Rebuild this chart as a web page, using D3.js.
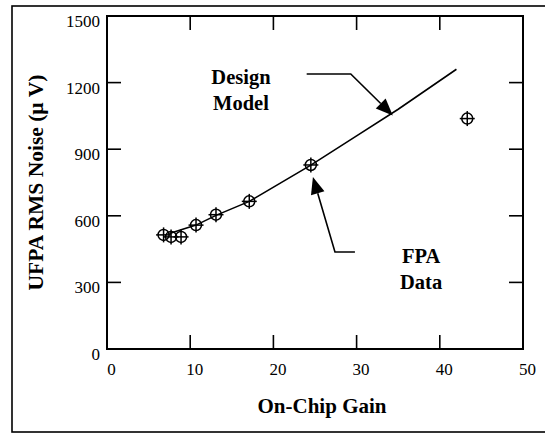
<!DOCTYPE html>
<html>
<head>
<meta charset="utf-8">
<script src="https://cdn.jsdelivr.net/npm/d3@7"></script>
<style>
  body { margin: 0; background: #fff; }
  svg { display: block; }
  .lab text { font-family: 'Liberation Serif', 'Times New Roman', serif; font-size: 17px; fill: #000; }
</style>
</head>
<body>
<div id="chart"></div>
<script>
// tick values
const gainTicks = [0, 10, 20, 30, 40, 50];
const noiseTicks = [0, 300, 600, 900, 1200, 1500];

// FPA data (markers)
const fpaGain = [6.8, 7.7, 8.9, 10.7, 13.1, 17.1, 24.5, 43.3];
const fpaNoise = [514, 505, 505, 558, 605, 665, 829, 1038];

// design model (line)
const modelGain = [7.5, 10.7, 13.1, 17.1, 24.5, 30, 35, 42];
const modelNoise = [520, 558, 602, 665, 828, 960, 1080, 1260];

// annotation arrows in data units
const designArrow = [[24.0, 1239], [29.3, 1239], [34.35, 1052]];
const fpaArrow = [[29.8, 437], [27.4, 437], [24.75, 775]];

const width = 545, height = 434;
const margin = {top: 16, right: 22, bottom: 85, left: 107};

const x = d3.scaleLinear()
    .domain([0, 50])
    .range([margin.left, width - margin.right]);

const y = d3.scaleLinear()
    .domain([0, 1500])
    .range([height - margin.bottom, margin.top]);

const svg = d3.select("#chart").append("svg")
    .attr("width", width)
    .attr("height", height)
    .attr("font-family", "'Liberation Serif', 'Times New Roman', serif");

// outer frame (right side runs off the picture)
svg.append("rect")
    .attr("x", 12).attr("y", 6)
    .attr("width", 545).attr("height", 426)
    .attr("fill", "none")
    .attr("stroke", "#000")
    .attr("stroke-width", 1.6);

// plot box
svg.append("rect")
    .attr("x", x(0)).attr("y", y(1500))
    .attr("width", x(50) - x(0)).attr("height", y(0) - y(1500))
    .attr("fill", "none")
    .attr("stroke", "#000")
    .attr("stroke-width", 2);

// inward ticks
const tickLen = 14;
const ticks = svg.append("g").attr("stroke", "#000").attr("stroke-width", 1.6);
const inner = v => v !== 0 && v !== 1500;
const innerX = v => v !== 0 && v !== 50;

ticks.selectAll(".yl").data(noiseTicks.filter(inner)).join("line")
    .attr("x1", x(0)).attr("x2", x(0) + tickLen)
    .attr("y1", d => y(d)).attr("y2", d => y(d));
ticks.selectAll(".yr").data(noiseTicks.filter(inner)).join("line")
    .attr("x1", x(50)).attr("x2", x(50) - tickLen)
    .attr("y1", d => y(d)).attr("y2", d => y(d));
ticks.selectAll(".xb").data(gainTicks.filter(innerX)).join("line")
    .attr("x1", d => x(d)).attr("x2", d => x(d))
    .attr("y1", y(0)).attr("y2", y(0) - tickLen);
ticks.selectAll(".xt").data(gainTicks.filter(innerX)).join("line")
    .attr("x1", d => x(d)).attr("x2", d => x(d))
    .attr("y1", y(1500)).attr("y2", y(1500) + tickLen);

// tick labels through d3 axes (no tick lines)
const yAxis = g => g.attr("transform", `translate(${x(0)},0)`)
    .call(d3.axisLeft(y).tickValues(noiseTicks).tickFormat(d3.format("d")).tickSize(0).tickPadding(7))
    .call(g => g.select(".domain").remove())
    .call(g => g.selectAll("text").attr("y", 5));

const xAxis = g => g.attr("transform", `translate(0,${y(0)})`)
    .call(d3.axisBottom(x).tickValues(gainTicks).tickFormat(d3.format("d")).tickSize(0).tickPadding(14))
    .call(g => g.select(".domain").remove())
    .call(g => g.selectAll("text").attr("x", 4));

svg.append("g").attr("class", "lab").call(yAxis);
svg.append("g").attr("class", "lab").call(xAxis);

// axis titles
svg.append("text")
    .attr("x", (x(0) + x(50)) / 2 + 7)
    .attr("y", 413)
    .attr("text-anchor", "middle")
    .attr("font-size", 21)
    .attr("font-weight", "bold")
    .text("On-Chip Gain");

svg.append("text")
    .attr("transform", `translate(43,${(y(0) + y(1500)) / 2}) rotate(-90)`)
    .attr("text-anchor", "middle")
    .attr("font-size", 21.5)
    .attr("font-weight", "bold")
    .text("UFPA RMS Noise (\u00b5 V)");

// design model line
const modelPts = modelGain.map((g, i) => [g, modelNoise[i]]);
svg.append("path")
    .datum(modelPts)
    .attr("fill", "none")
    .attr("stroke", "#000")
    .attr("stroke-width", 1.6)
    .attr("d", d3.line().x(d => x(d[0])).y(d => y(d[1])));

// FPA markers: circle with crosshair
const fpaPts = fpaGain.map((g, i) => [g, fpaNoise[i]]);
const mk = svg.append("g")
    .attr("fill", "none")
    .attr("stroke", "#000")
    .attr("stroke-width", 1.5)
    .selectAll("g")
    .data(fpaPts)
    .join("g")
    .attr("transform", d => `translate(${x(d[0])},${y(d[1])})`);
mk.append("circle").attr("r", 5.5);
mk.append("line").attr("x1", -7.5).attr("x2", 7.5);
mk.append("line").attr("y1", -7.5).attr("y2", 7.5);

// annotation arrows
function arrow(pts) {
    const p = pts.map(d => [x(d[0]), y(d[1])]);
    const [a, b] = [p[p.length - 2], p[p.length - 1]];
    const ang = Math.atan2(b[1] - a[1], b[0] - a[0]);
    const L = 17, W = 7;
    const bx = b[0] - L * Math.cos(ang), by = b[1] - L * Math.sin(ang);
    const nx = -Math.sin(ang) * W, ny = Math.cos(ang) * W;
    p[p.length - 1] = [bx, by];
    svg.append("path")
        .attr("d", d3.line()(p))
        .attr("fill", "none")
        .attr("stroke", "#000")
        .attr("stroke-width", 1.6);
    svg.append("path")
        .attr("d", d3.line()([b, [bx + nx, by + ny], [bx - nx, by - ny]]) + "Z")
        .attr("fill", "#000");
}
arrow(designArrow);
arrow(fpaArrow);

// annotation texts
const notes = [
    {t: "Design", g: 16.1, n: 1195},
    {t: "Model", g: 16.1, n: 1078},
    {t: "FPA", g: 37.75, n: 387},
    {t: "Data", g: 37.75, n: 270}
];
svg.append("g").selectAll("text").data(notes).join("text")
    .attr("x", d => x(d.g))
    .attr("y", d => y(d.n))
    .attr("text-anchor", "middle")
    .attr("font-size", 20.5)
    .attr("font-weight", "bold")
    .text(d => d.t);
</script>
</body>
</html>
